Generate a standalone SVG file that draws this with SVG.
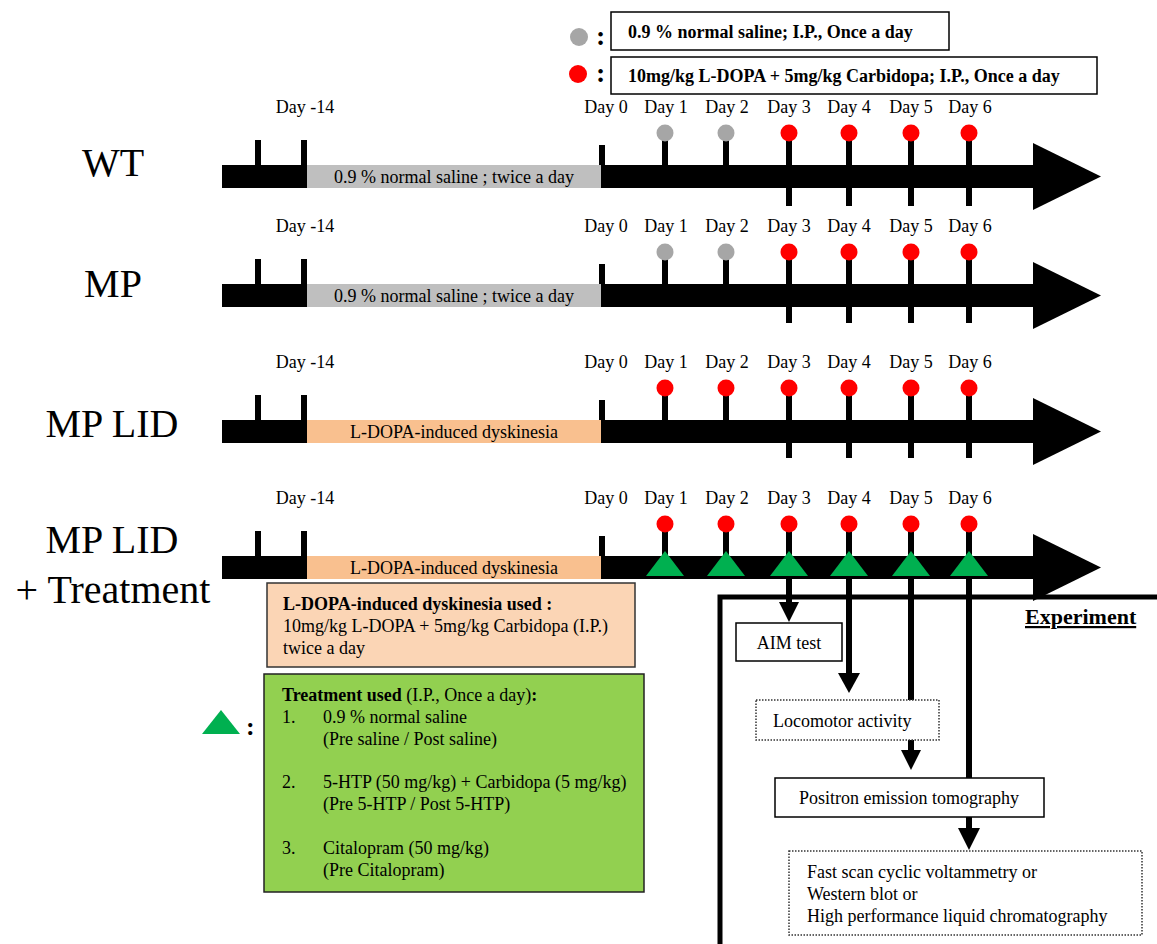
<svg xmlns="http://www.w3.org/2000/svg" xmlns:xlink="http://www.w3.org/1999/xlink" width="1157" height="944" viewBox="0 0 1157 944">
<style>
  .t { font-family: "Liberation Serif", "Times New Roman", serif; fill: #000; }
  .day { font-size: 18px; text-anchor: middle; }
  .big { font-size: 40px; text-anchor: middle; }
  .lab { font-size: 18px; }
  .b { font-weight: bold; }
  .stem { stroke: #000; stroke-width: 6; }
  .bar { fill: #000; }
  .gray { fill: #a6a6a6; }
  .red { fill: #ff0000; }
  .tri { fill: #00b050; }
  .box { fill: #fff; stroke: #000; stroke-width: 1.5; }
  .dot { fill: #fff; stroke: #333; stroke-width: 1.5; stroke-dasharray: 1.5 1.5; }
  .conn { stroke: #000; stroke-width: 6; fill: none; }
  .head { fill: #000; }
</style>
<defs>
  <g id="timeline">
    <rect class="bar" x="222" y="165" width="813" height="23"/>
    <polygon class="bar" points="1033,143 1101,176.5 1033,210"/>
    <rect class="bar" x="255" y="140" width="6" height="26"/>
    <rect class="bar" x="301" y="140" width="6" height="26"/>
    <rect class="bar" x="599" y="145" width="6" height="21"/>
    <text class="t day" x="305" y="113">Day -14</text>
    <text class="t day" x="606" y="113">Day 0</text>
    <text class="t day" x="666" y="113">Day 1</text>
    <text class="t day" x="727" y="113">Day 2</text>
    <text class="t day" x="789" y="113">Day 3</text>
    <text class="t day" x="849" y="113">Day 4</text>
    <text class="t day" x="911" y="113">Day 5</text>
    <text class="t day" x="970" y="113">Day 6</text>
  </g>
</defs>

<!-- Legend -->
<g id="legend-saline">
  <circle class="gray" cx="579" cy="37" r="9"/>
  <text class="t b" x="596" y="45" font-size="28">:</text>
  <rect class="box" x="611" y="12" width="338" height="38" stroke-width="2"/>
  <text class="t b" x="628" y="38" font-size="18">0.9 % normal saline; I.P., Once a day</text>
</g>
<g id="legend-ldopa">
  <circle class="red" cx="578" cy="74" r="9"/>
  <text class="t b" x="596" y="82" font-size="28">:</text>
  <rect class="box" x="611" y="57" width="486" height="37" stroke-width="2"/>
  <text class="t b" x="628" y="82" font-size="18">10mg/kg L-DOPA + 5mg/kg Carbidopa; I.P., Once a day</text>
</g>

<!-- Row WT -->
<g id="row-wt">
  <text class="t big" x="113" y="176">WT</text>
  <g>
    <use xlink:href="#timeline" href="#timeline"/>
    <rect x="307" y="165" width="294" height="23" fill="#bfbfbf"/>
    <text class="t day" x="454" y="183">0.9 % normal saline ; twice a day</text>
    <line class="stem" x1="665" y1="133" x2="665" y2="166"/>
    <line class="stem" x1="726" y1="133" x2="726" y2="166"/>
    <line class="stem" x1="789" y1="133" x2="789" y2="206"/>
    <line class="stem" x1="849" y1="133" x2="849" y2="206"/>
    <line class="stem" x1="911" y1="133" x2="911" y2="206"/>
    <line class="stem" x1="969" y1="133" x2="969" y2="206"/>
    <circle class="gray" cx="665" cy="133" r="8.5"/>
    <circle class="gray" cx="726" cy="133" r="8.5"/>
    <circle class="red" cx="789" cy="133" r="8.5"/>
    <circle class="red" cx="849" cy="133" r="8.5"/>
    <circle class="red" cx="911" cy="133" r="8.5"/>
    <circle class="red" cx="969" cy="133" r="8.5"/>
  </g>
</g>

<!-- Row MP -->
<g id="row-mp">
  <text class="t big" x="113" y="297">MP</text>
  <g transform="translate(0,119)">
    <use xlink:href="#timeline" href="#timeline"/>
    <rect x="307" y="165" width="294" height="23" fill="#bfbfbf"/>
    <text class="t day" x="454" y="183">0.9 % normal saline ; twice a day</text>
    <line class="stem" x1="665" y1="133" x2="665" y2="166"/>
    <line class="stem" x1="726" y1="133" x2="726" y2="166"/>
    <line class="stem" x1="789" y1="133" x2="789" y2="204"/>
    <line class="stem" x1="849" y1="133" x2="849" y2="204"/>
    <line class="stem" x1="911" y1="133" x2="911" y2="204"/>
    <line class="stem" x1="969" y1="133" x2="969" y2="204"/>
    <circle class="gray" cx="665" cy="133" r="8.5"/>
    <circle class="gray" cx="726" cy="133" r="8.5"/>
    <circle class="red" cx="789" cy="133" r="8.5"/>
    <circle class="red" cx="849" cy="133" r="8.5"/>
    <circle class="red" cx="911" cy="133" r="8.5"/>
    <circle class="red" cx="969" cy="133" r="8.5"/>
  </g>
</g>

<!-- Row MP LID -->
<g id="row-mplid">
  <text class="t big" x="112" y="437">MP LID</text>
  <g transform="translate(0,255)">
    <use xlink:href="#timeline" href="#timeline"/>
    <rect x="307" y="165" width="294" height="23" fill="#f9c08f"/>
    <text class="t day" x="454" y="183">L-DOPA-induced dyskinesia</text>
    <line class="stem" x1="665" y1="133" x2="665" y2="166"/>
    <line class="stem" x1="726" y1="133" x2="726" y2="166"/>
    <line class="stem" x1="789" y1="133" x2="789" y2="203"/>
    <line class="stem" x1="849" y1="133" x2="849" y2="203"/>
    <line class="stem" x1="911" y1="133" x2="911" y2="203"/>
    <line class="stem" x1="969" y1="133" x2="969" y2="203"/>
    <circle class="red" cx="665" cy="133" r="8.5"/>
    <circle class="red" cx="726" cy="133" r="8.5"/>
    <circle class="red" cx="789" cy="133" r="8.5"/>
    <circle class="red" cx="849" cy="133" r="8.5"/>
    <circle class="red" cx="911" cy="133" r="8.5"/>
    <circle class="red" cx="969" cy="133" r="8.5"/>
  </g>
</g>

<!-- Row MP LID + Treatment -->
<g id="row-mplid-treatment">
  <text class="t big" x="112" y="553">MP LID</text>
  <text class="t big" x="113" y="603">+ Treatment</text>
  <g transform="translate(0,391)">
    <use xlink:href="#timeline" href="#timeline"/>
    <rect x="307" y="165" width="294" height="23" fill="#f9c08f"/>
    <text class="t day" x="454" y="183">L-DOPA-induced dyskinesia</text>
    <line class="stem" x1="665" y1="133" x2="665" y2="166"/>
    <line class="stem" x1="726" y1="133" x2="726" y2="166"/>
    <line class="stem" x1="789" y1="133" x2="789" y2="166"/>
    <line class="stem" x1="849" y1="133" x2="849" y2="166"/>
    <line class="stem" x1="911" y1="133" x2="911" y2="166"/>
    <line class="stem" x1="969" y1="133" x2="969" y2="166"/>
    <circle class="red" cx="665" cy="133" r="8.5"/>
    <circle class="red" cx="726" cy="133" r="8.5"/>
    <circle class="red" cx="789" cy="133" r="8.5"/>
    <circle class="red" cx="849" cy="133" r="8.5"/>
    <circle class="red" cx="911" cy="133" r="8.5"/>
    <circle class="red" cx="969" cy="133" r="8.5"/>
    <polygon class="tri" points="646,185 665,160 684,185"/>
    <polygon class="tri" points="707,185 726,160 745,185"/>
    <polygon class="tri" points="770,185 789,160 808,185"/>
    <polygon class="tri" points="830,185 849,160 868,185"/>
    <polygon class="tri" points="892,185 911,160 930,185"/>
    <polygon class="tri" points="950,185 969,160 988,185"/>
  </g>
</g>

<!-- L-DOPA used box -->
<g id="ldopa-used">
  <rect x="267" y="583" width="368" height="84" fill="#fbd5b5" stroke="#333" stroke-width="1.5"/>
  <text class="t lab b" x="283" y="610">L-DOPA-induced dyskinesia used :</text>
  <text class="t lab" x="283" y="632">10mg/kg L-DOPA + 5mg/kg Carbidopa (I.P.)</text>
  <text class="t lab" x="283" y="654">twice a day</text>
</g>

<!-- Treatment legend -->
<g id="treatment-legend">
  <polygon class="tri" points="202,734 221,710 240,734"/>
  <text class="t b" x="246" y="735" font-size="26">:</text>
</g>

<!-- Treatment used box -->
<g id="treatment-used">
  <rect x="264" y="674" width="380" height="218" fill="#92d050" stroke="#222" stroke-width="1.5"/>
  <text class="t lab" x="282" y="701"><tspan font-weight="bold">Treatment used</tspan> (I.P., Once a day)<tspan font-weight="bold">:</tspan></text>
  <text class="t lab" x="282" y="723">1.</text>
  <text class="t lab" x="323" y="723">0.9 % normal saline</text>
  <text class="t lab" x="323" y="745">(Pre saline / Post saline)</text>
  <text class="t lab" x="282" y="788">2.</text>
  <text class="t lab" x="323" y="788">5-HTP (50 mg/kg) + Carbidopa (5 mg/kg)</text>
  <text class="t lab" x="323" y="810">(Pre 5-HTP / Post 5-HTP)</text>
  <text class="t lab" x="282" y="854">3.</text>
  <text class="t lab" x="323" y="854">Citalopram (50 mg/kg)</text>
  <text class="t lab" x="323" y="876">(Pre Citalopram)</text>
</g>

<!-- Experiment frame -->
<g id="experiment-frame">
  <polyline points="720,944 720,597 1157,597" fill="none" stroke="#000" stroke-width="5"/>
  <text class="t b" x="1025" y="624" font-size="22" text-decoration="underline">Experiment</text>
</g>

<!-- Connectors -->
<g id="connectors">
  <line class="conn" x1="789" y1="578" x2="789" y2="604"/>
  <polygon class="head" points="779,602 799,602 789,622"/>
  <line class="conn" x1="849" y1="578" x2="849" y2="675"/>
  <polygon class="head" points="838,673 860,673 849,693"/>
  <line class="conn" x1="911" y1="578" x2="911" y2="700"/>
  <line class="conn" x1="911" y1="740" x2="911" y2="752"/>
  <polygon class="head" points="901,750 921,750 911,770"/>
  <line class="conn" x1="969" y1="578" x2="969" y2="778"/>
  <line class="conn" x1="969" y1="817" x2="969" y2="830"/>
  <polygon class="head" points="958,828 980,828 969,850"/>
</g>

<!-- Experiment boxes -->
<g id="aim-test">
  <rect class="box" x="736" y="623" width="106" height="38"/>
  <text class="t lab" x="789" y="649" text-anchor="middle">AIM test</text>
</g>
<g id="locomotor">
  <rect class="dot" x="756" y="700" width="183" height="40"/>
  <text class="t lab" x="773" y="727">Locomotor activity</text>
</g>
<g id="pet">
  <rect class="box" x="775" y="778" width="269" height="39"/>
  <text class="t lab" x="909" y="804" text-anchor="middle">Positron emission tomography</text>
</g>
<g id="analysis">
  <rect class="dot" x="789" y="851" width="353" height="84"/>
  <text class="t lab" x="807" y="878">Fast scan cyclic voltammetry or</text>
  <text class="t lab" x="807" y="900">Western blot or</text>
  <text class="t lab" x="807" y="922">High performance liquid chromatography</text>
</g>
</svg>
